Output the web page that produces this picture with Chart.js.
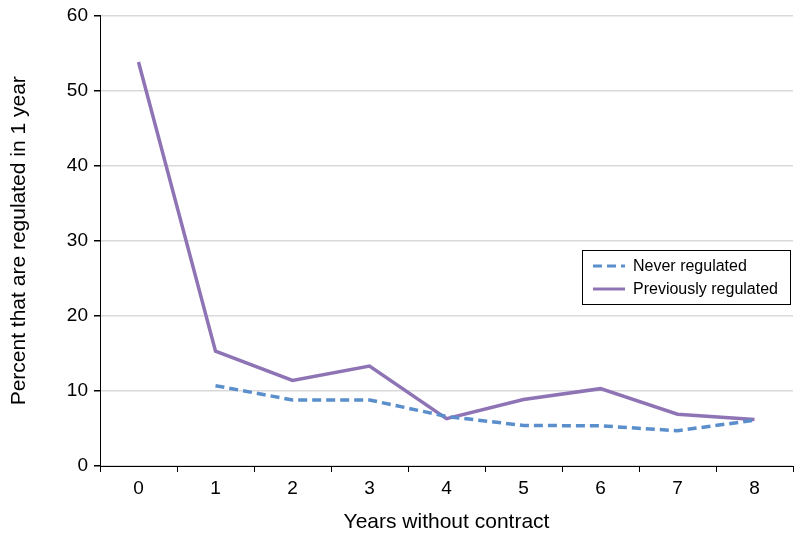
<!DOCTYPE html>
<html>
<head>
<meta charset="utf-8">
<script src="https://cdn.jsdelivr.net/npm/chart.js@4/dist/chart.umd.min.js"></script>
<style>
  html, body { margin: 0; padding: 0; background: #fff; }
  #wrap { width: 794px; height: 536px; position: relative; }
</style>
</head>
<body>
<div id="wrap"><canvas id="chart"></canvas></div>
<script>
const years = ['0', '1', '2', '3', '4', '5', '6', '7', '8'];
const neverRegulated = [null, 10.7, 8.8, 8.8, 6.6, 5.4, 5.35, 4.7, 6.1];
const previouslyRegulated = [53.8, 15.3, 11.4, 13.3, 6.3, 8.85, 10.3, 6.9, 6.2];
const yTicks = [0, 10, 20, 30, 40, 50, 60];

const FONT = '"Liberation Sans", Arial, sans-serif';

// legend drawn as a framed box inside the plot, like the original
const boxLegend = {
  id: 'boxLegend',
  afterDraw(chart) {
    const ctx = chart.ctx;
    const x = 582, y = 250, w = 208, h = 54;
    ctx.save();
    ctx.fillStyle = '#fff';
    ctx.fillRect(x, y, w, h);
    ctx.strokeStyle = '#000';
    ctx.lineWidth = 1;
    ctx.strokeRect(x + 0.5, y + 0.5, w, h);
    ctx.font = '16px ' + FONT;
    ctx.textBaseline = 'middle';
    chart.data.datasets.forEach((ds, i) => {
      const ly = y + 16 + i * 23;
      ctx.beginPath();
      ctx.strokeStyle = ds.borderColor;
      ctx.lineWidth = 3;
      ctx.setLineDash(ds.borderDash || []);
      ctx.moveTo(x + 11, ly);
      ctx.lineTo(x + 43, ly);
      ctx.stroke();
      ctx.setLineDash([]);
      ctx.fillStyle = '#000';
      ctx.fillText(ds.label, x + 51, ly + 1);
    });
    ctx.restore();
  }
};

new Chart(document.getElementById('chart'), {
  type: 'line',
  data: {
    labels: years,
    datasets: [
      {
        label: 'Never regulated',
        data: neverRegulated,
        borderColor: '#5a8fcc',
        borderWidth: 3.5,
        borderDash: [9, 5],
        pointRadius: 0,
        spanGaps: false,
        tension: 0
      },
      {
        label: 'Previously regulated',
        data: previouslyRegulated,
        borderColor: '#8f74b5',
        borderWidth: 3.5,
        pointRadius: 0,
        tension: 0
      }
    ]
  },
  options: {
    responsive: true,
    maintainAspectRatio: false,
    animation: false,
    layout: { padding: { top: 14, right: 1, left: 0, bottom: 0 } },
    plugins: {
      legend: { display: false },
      tooltip: { enabled: false }
    },
    scales: {
      x: {
        type: 'category',
        offset: true,
        grid: {
          offset: true,
          drawOnChartArea: false,
          drawTicks: true,
          tickLength: 6,
          tickColor: '#000'
        },
        border: { color: '#000', width: 1 },
        ticks: {
          color: '#000',
          font: { family: FONT, size: 19 },
          padding: 5,
          maxRotation: 0
        },
        title: {
          display: true,
          text: 'Years without contract',
          color: '#000',
          font: { family: FONT, size: 21 },
          padding: { top: 4, bottom: 1 }
        },
        afterFit(scale) { scale.height = 70; }
      },
      y: {
        min: 0,
        max: 60,
        afterBuildTicks(scale) {
          scale.ticks = yTicks.map(v => ({ value: v }));
        },
        grid: {
          color: '#d9d9d9',
          lineWidth: 1.5,
          drawTicks: true,
          tickLength: 6,
          tickColor: '#000'
        },
        border: { color: '#000', width: 1 },
        ticks: {
          color: '#000',
          font: { family: FONT, size: 19, lineHeight: 1 },
          padding: 6
        },
        title: {
          display: true,
          text: 'Percent that are regulated in 1 year',
          color: '#000',
          font: { family: FONT, size: 21 },
          padding: { top: 7, bottom: 4 }
        },
        afterFit(scale) { scale.width = 100; }
      }
    }
  },
  plugins: [boxLegend]
});
</script>
</body>
</html>
